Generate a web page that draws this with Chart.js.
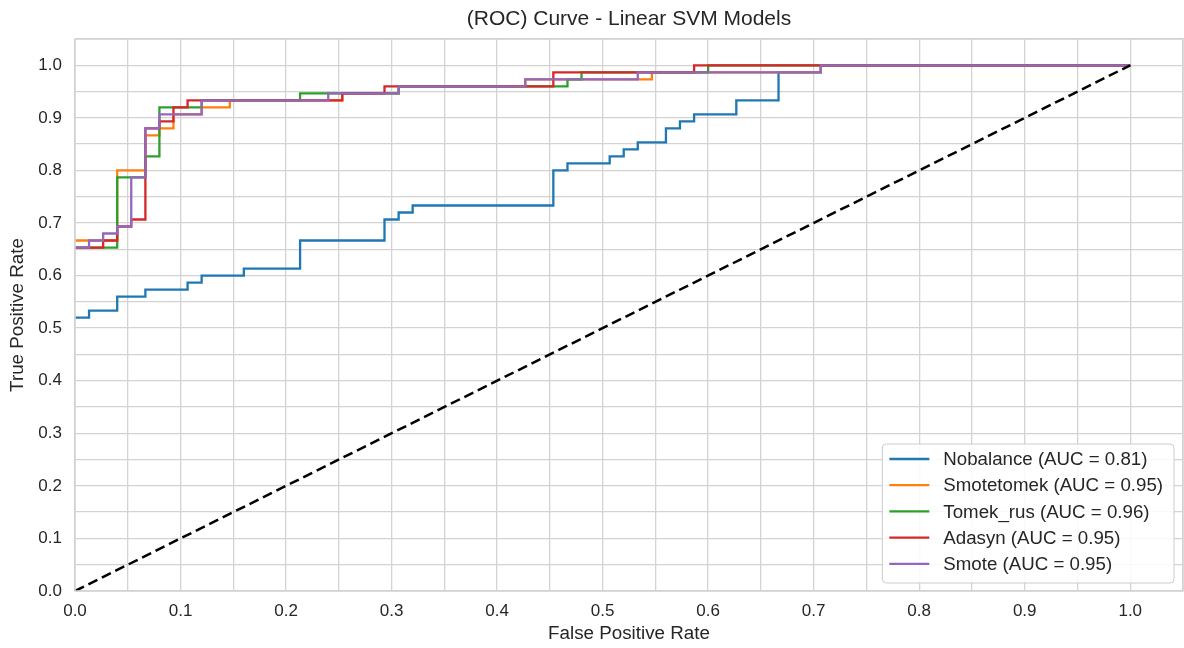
<!DOCTYPE html>
<html>
<head>
<meta charset="utf-8">
<script src="https://cdn.jsdelivr.net/npm/chart.js@4.4.1/dist/chart.umd.min.js"></script>
<style>
html,body{margin:0;padding:0;background:#ffffff;}
#wrap{width:1184px;height:648px;}
</style>
</head>
<body>
<div id="wrap"><canvas id="c" width="1184" height="648"></canvas></div>
<script>
// ---- data ----
const chartTitle = '(ROC) Curve - Linear SVM Models';
const seriesNames = ['Nobalance', 'Smotetomek', 'Tomek_rus', 'Adasyn', 'Smote'];
const aucValues = [0.81, 0.95, 0.96, 0.95, 0.95];
const seriesColors = ['#1f77b4', '#ff7f0e', '#2ca02c', '#d62728', '#9467bd'];

const nobalanceFpr = [0, 0.0133, 0.0133, 0.04, 0.04, 0.0667, 0.0667, 0.1067, 0.1067, 0.12, 0.12, 0.16, 0.16, 0.2133, 0.2133, 0.2933, 0.2933, 0.3067, 0.3067, 0.32, 0.32, 0.4533, 0.4533, 0.4667, 0.4667, 0.5067, 0.5067, 0.52, 0.52, 0.5333, 0.5333, 0.56, 0.56, 0.5733, 0.5733, 0.5867, 0.5867, 0.6267, 0.6267, 0.6667, 0.6667, 0.7067, 0.7067, 1];
const nobalanceTpr = [0.52, 0.52, 0.5333, 0.5333, 0.56, 0.56, 0.5733, 0.5733, 0.5867, 0.5867, 0.6, 0.6, 0.6133, 0.6133, 0.6667, 0.6667, 0.7067, 0.7067, 0.72, 0.72, 0.7333, 0.7333, 0.8, 0.8, 0.8133, 0.8133, 0.8267, 0.8267, 0.84, 0.84, 0.8533, 0.8533, 0.88, 0.88, 0.8933, 0.8933, 0.9067, 0.9067, 0.9333, 0.9333, 0.9867, 0.9867, 1, 1];

const smotetomekFpr = [0, 0.04, 0.04, 0.0667, 0.0667, 0.08, 0.08, 0.0933, 0.0933, 0.12, 0.12, 0.1467, 0.1467, 0.2533, 0.2533, 0.3067, 0.3067, 0.4267, 0.4267, 0.5467, 0.5467, 0.7067, 0.7067, 1];
const smotetomekTpr = [0.6667, 0.6667, 0.8, 0.8, 0.8667, 0.8667, 0.88, 0.88, 0.9067, 0.9067, 0.92, 0.92, 0.9333, 0.9333, 0.9467, 0.9467, 0.96, 0.96, 0.9733, 0.9733, 0.9867, 0.9867, 1, 1];

const tomekRusFpr = [0, 0.04, 0.04, 0.0667, 0.0667, 0.08, 0.08, 0.12, 0.12, 0.2133, 0.2133, 0.3067, 0.3067, 0.4667, 0.4667, 0.48, 0.48, 0.6, 0.6, 1];
const tomekRusTpr = [0.6533, 0.6533, 0.7867, 0.7867, 0.8267, 0.8267, 0.92, 0.92, 0.9333, 0.9333, 0.9467, 0.9467, 0.96, 0.96, 0.9733, 0.9733, 0.9867, 0.9867, 1, 1];

const adasynFpr = [0, 0.0267, 0.0267, 0.04, 0.04, 0.0533, 0.0533, 0.0667, 0.0667, 0.08, 0.08, 0.0933, 0.0933, 0.1067, 0.1067, 0.2533, 0.2533, 0.2933, 0.2933, 0.4533, 0.4533, 0.5867, 0.5867, 1];
const adasynTpr = [0.6533, 0.6533, 0.6667, 0.6667, 0.6933, 0.6933, 0.7067, 0.7067, 0.88, 0.88, 0.8933, 0.8933, 0.92, 0.92, 0.9333, 0.9333, 0.9467, 0.9467, 0.96, 0.96, 0.9867, 0.9867, 1, 1];

const smoteFpr = [0, 0.0133, 0.0133, 0.0267, 0.0267, 0.04, 0.04, 0.0533, 0.0533, 0.0667, 0.0667, 0.08, 0.08, 0.12, 0.12, 0.24, 0.24, 0.3067, 0.3067, 0.4267, 0.4267, 0.5333, 0.5333, 0.7067, 0.7067, 1];
const smoteTpr = [0.6533, 0.6533, 0.6667, 0.6667, 0.68, 0.68, 0.6933, 0.6933, 0.7867, 0.7867, 0.88, 0.88, 0.9067, 0.9067, 0.9333, 0.9333, 0.9467, 0.9467, 0.96, 0.96, 0.9733, 0.9733, 0.9867, 0.9867, 1, 1];

const chanceFpr = [0, 1];
const chanceTpr = [0, 1];

const fprSeries = [nobalanceFpr, smotetomekFpr, tomekRusFpr, adasynFpr, smoteFpr];
const tprSeries = [nobalanceTpr, smotetomekTpr, tomekRusTpr, adasynTpr, smoteTpr];

// ---- styling ----
const FONT = '"Liberation Sans", Arial, Helvetica, sans-serif';
const TEXT = '#262626';
const GRID = '#d3d3d3';

function toPoints(xs, ys) { return xs.map((x, i) => ({ x: x, y: ys[i] })); }

const datasets = seriesNames.map((name, i) => ({
  label: name + ' (AUC = ' + aucValues[i].toFixed(2) + ')',
  data: toPoints(fprSeries[i], tprSeries[i]),
  borderColor: seriesColors[i],
  backgroundColor: seriesColors[i],
  borderWidth: 2.3,
  showLine: true,
  pointRadius: 0,
  pointHoverRadius: 0,
  fill: false,
  tension: 0,
  order: 10 - i,
  inLegend: true
}));
datasets.push({
  label: 'chance',
  data: toPoints(chanceFpr, chanceTpr),
  borderColor: '#000000',
  borderWidth: 2.5,
  borderDash: [10, 5],
  showLine: true,
  pointRadius: 0,
  fill: false,
  order: 0,
  inLegend: false
});

function tickLabel(value) {
  const v = Math.round(value * 100);
  return (v % 10 === 0 && v <= 100) ? (v / 100).toFixed(1) : '';
}

const frameAndLegend = {
  id: 'frameAndLegend',
  afterDatasetsDraw(chart) {
    const a = chart.chartArea, ctx = chart.ctx;
    ctx.save();
    ctx.strokeStyle = GRID;
    ctx.lineWidth = 1.5;
    ctx.strokeRect(a.left, a.top, a.right - a.left, a.bottom - a.top);
    ctx.restore();
  },
  afterDraw(chart) {
    const a = chart.chartArea, ctx = chart.ctx;
    ctx.save();
    // title centred over the plotting area
    ctx.font = '21px ' + FONT;
    ctx.fillStyle = TEXT;
    ctx.textAlign = 'center';
    ctx.textBaseline = 'middle';
    ctx.fillText(chartTitle, (a.left + a.right) / 2, 19);

    const items = chart.data.datasets.filter(d => d.inLegend);
    const fs = 18.7;
    ctx.font = fs + 'px ' + FONT;
    let maxW = 0;
    items.forEach(d => { maxW = Math.max(maxW, ctx.measureText(d.label).width); });
    const pad = 7, handle = 40, gap = 14, rowH = 26.2;
    const w = pad + handle + gap + maxW + pad + 4;
    const h = items.length * rowH + 8;
    const x0 = a.right - 9 - w;
    const y0 = a.bottom - 8 - h;
    ctx.beginPath();
    if (ctx.roundRect) ctx.roundRect(x0, y0, w, h, 4); else ctx.rect(x0, y0, w, h);
    ctx.fillStyle = 'rgba(255,255,255,0.85)';
    ctx.fill();
    ctx.strokeStyle = '#cccccc';
    ctx.lineWidth = 1;
    ctx.stroke();
    items.forEach((d, i) => {
      const cy = y0 + 15 + i * rowH;
      ctx.beginPath();
      ctx.strokeStyle = d.borderColor;
      ctx.lineWidth = 2.3;
      ctx.moveTo(x0 + pad, cy);
      ctx.lineTo(x0 + pad + handle, cy);
      ctx.stroke();
      ctx.fillStyle = TEXT;
      ctx.textBaseline = 'middle';
      ctx.textAlign = 'left';
      ctx.fillText(d.label, x0 + pad + handle + gap, cy + 1);
    });
    ctx.restore();
  }
};

new Chart(document.getElementById('c'), {
  type: 'scatter',
  data: { datasets: datasets },
  options: {
    responsive: false,
    animation: false,
    devicePixelRatio: 1,
    layout: { padding: { left: 0, right: 1, top: 39, bottom: 0 } },
    plugins: {
      legend: { display: false },
      tooltip: { enabled: false },
      title: { display: false }
    },
    scales: {
      x: {
        type: 'linear',
        min: 0, max: 1.05,
        afterFit(s) { s.height = 57; s.paddingRight = 0; s.paddingLeft = 0; },
        grid: { color: GRID, lineWidth: 1.3, drawTicks: false },
        border: { display: false },
        ticks: {
          stepSize: 0.05, autoSkip: false, maxRotation: 0, padding: 10,
          color: TEXT, font: { family: FONT, size: 17 },
          callback: tickLabel
        },
        title: {
          display: true, text: 'False Positive Rate', color: TEXT,
          font: { family: FONT, size: 18.8 }, padding: { top: 0, bottom: 3 }
        }
      },
      y: {
        type: 'linear',
        min: 0, max: 1.05,
        afterFit(s) { s.width = 75; s.paddingTop = 0; s.paddingBottom = 0; },
        grid: { color: GRID, lineWidth: 1.3, drawTicks: false },
        border: { display: false },
        ticks: {
          stepSize: 0.05, autoSkip: false, padding: 13,
          color: TEXT, font: { family: FONT, size: 17 },
          callback: tickLabel
        },
        title: {
          display: true, text: 'True Positive Rate', color: TEXT,
          font: { family: FONT, size: 18.8 }, padding: { top: 7, bottom: 0 }
        }
      }
    }
  },
  plugins: [frameAndLegend]
});
</script>
</body>
</html>
